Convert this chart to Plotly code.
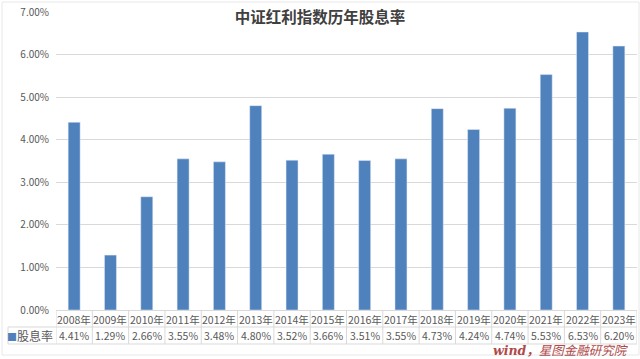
import plotly.graph_objects as go

years = ["2008年", "2009年", "2010年", "2011年", "2012年", "2013年", "2014年", "2015年",
         "2016年", "2017年", "2018年", "2019年", "2020年", "2021年", "2022年", "2023年"]
dividend_yield = [4.41, 1.29, 2.66, 3.55, 3.48, 4.80, 3.52, 3.66,
                  3.51, 3.55, 4.73, 4.24, 4.74, 5.53, 6.53, 6.20]
series_name = "股息率"
title_text = "中证红利指数历年股息率"
source_text = "wind，星图金融研究院"
y_ticks = [0, 1, 2, 3, 4, 5, 6, 7]

BAR = "#4f81bd"
GRID = "#d9d9d9"
TXT = "#595959"
FONT = "Noto Sans CJK SC"

xs = list(range(len(years)))
fig = go.Figure()
fig.add_trace(go.Bar(x=xs, y=[v / 100 for v in dividend_yield], marker_color=BAR,
                     width=0.33, name=series_name, showlegend=False))

shapes = []
for dy in [-17, -34]:
    shapes.append(dict(type="line", xref="paper", yref="paper", xsizemode="pixel", ysizemode="pixel",
                       xanchor=1, yanchor=0, x0=-629, x1=0, y0=dy, y1=dy,
                       line=dict(color=GRID, width=1)))
for i in range(len(years) + 1):
    shapes.append(dict(type="line", xref="x", yref="paper", ysizemode="pixel", yanchor=0,
                       x0=i - 0.5, x1=i - 0.5, y0=0, y1=-34, line=dict(color=GRID, width=1)))
shapes.append(dict(type="line", xref="paper", yref="paper", xsizemode="pixel", ysizemode="pixel",
                   xanchor=0, yanchor=0, x0=-48, x1=-48, y0=-17, y1=-34, line=dict(color=GRID, width=1)))
shapes.append(dict(type="rect", xref="paper", yref="paper", xsizemode="pixel", ysizemode="pixel",
                   xanchor=0, yanchor=0, x0=-54, x1=583, y0=308, y1=-45,
                   line=dict(color="#e8e8e8", width=1)))

annotations = []
for i, (yr, v) in enumerate(zip(years, dividend_yield)):
    annotations.append(dict(x=i, y=0, xref="x", yref="paper", yshift=-9, text=yr, showarrow=False,
                            font=dict(size=10.5, color=TXT, family=FONT), yanchor="middle"))
    annotations.append(dict(x=i, y=0, xref="x", yref="paper", yshift=-25, text=f"{v:.2f}%",
                            showarrow=False, font=dict(size=10.5, color=TXT, family=FONT),
                            yanchor="middle"))
annotations.append(dict(x=0, y=0, xref="paper", yref="paper", xshift=-1, yshift=-25,
                        xanchor="right", yanchor="middle", showarrow=False,
                        text=f"<span style='color:{BAR};font-size:10px'>■</span>{series_name}",
                        font=dict(size=12, color=TXT, family=FONT)))
annotations.append(dict(x=1, y=0, xref="paper", yref="paper", xshift=-6, yshift=-40,
                        xanchor="right", yanchor="middle", showarrow=False,
                        text=f"<i><b>wind，</b>星图金融研究院</i>",
                        font=dict(size=12.5, color="#b04a4a", family="DejaVu Serif, Noto Sans CJK SC")))

fig.update_layout(
    width=640, height=359,
    margin=dict(l=56, r=3, t=9, b=49),
    paper_bgcolor="white", plot_bgcolor="white",
    title=dict(text=f"<b>{title_text}</b>", x=0.5, xref="container", xanchor="center",
               y=1 - 18 / 359, yref="container", yanchor="middle",
               font=dict(size=15.5, color="#404040", family=FONT)),
    xaxis=dict(range=[-0.5, len(years) - 0.5], showticklabels=False, showgrid=False,
               showline=True, linecolor=GRID, ticks="", zeroline=False, fixedrange=True),
    yaxis=dict(range=[0, 0.07], tickvals=[t / 100 for t in y_ticks], tickformat=".2%",
               showgrid=True, gridcolor=GRID, zeroline=False, ticks="",
               tickfont=dict(size=10, color=TXT, family=FONT), ticklabelstandoff=6),
    shapes=shapes, annotations=annotations, bargap=0.67,
)
fig.write_html("out.html", config={"displayModeBar": False},
               post_script="document.body.style.margin='0';")
